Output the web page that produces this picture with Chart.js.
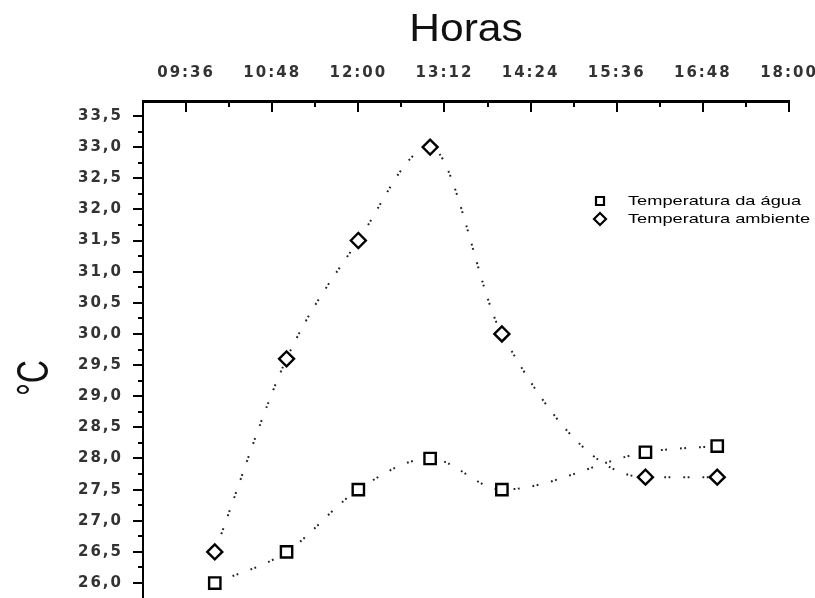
<!DOCTYPE html>
<html>
<head>
<meta charset="utf-8">
<title>Horas x °C</title>
<script src="https://cdn.jsdelivr.net/npm/chart.js@4.4.1/dist/chart.umd.min.js"></script>
<style>
  html, body { margin: 0; padding: 0; background: #fff; overflow: hidden; }
  #my-chart { display: block; }
</style>
</head>
<body>
<canvas id="my-chart" width="815" height="598"></canvas>
<script>
'use strict';

// hours of the day (decimal) for each reading
let readingHours = [10, 11, 12, 13, 14, 16, 17];
let waterTemps = [26.0, 26.5, 27.5, 28.0, 27.5, 28.1, 28.2];
let ambientTemps = [26.5, 29.6, 31.5, 33.0, 30.0, 27.7, 27.7];

let xTickLabels = ['09:36', '10:48', '12:00', '13:12', '14:24', '15:36', '16:48', '18:00'];
let yTickValues = [26.0, 26.5, 27.0, 27.5, 28.0, 28.5, 29.0, 29.5, 30.0, 30.5, 31.0, 31.5, 32.0, 32.5, 33.0, 33.5];

function labelToHours(label) {
  let parts = label.split(':');
  return Number(parts[0]) + Number(parts[1]) / 60;
}

function hoursToLabel(h) {
  let total = Math.round(h * 60);
  let hh = String(Math.floor(total / 60)).padStart(2, '0');
  let mm = String(total % 60).padStart(2, '0');
  return hh + ':' + mm;
}

let canvasElem = document.getElementById('my-chart');

// ticks (x inward, y outward), legend and the titles
let extrasPlugin = {
  id: 'extras',
  beforeDraw(chart) {
    chart.ctx.letterSpacing = '2px';
  },
  afterDraw(chart) {
    let ctx = chart.ctx;
    let xScale = chart.scales.x;
    let yScale = chart.scales.y;
    let area = chart.chartArea;

    ctx.save();
    ctx.letterSpacing = '0px';
    ctx.strokeStyle = '#000';
    ctx.lineWidth = 2;
    ctx.beginPath();
    for (let k = 1; k <= 15; k++) {
      let px = Math.round(xScale.getPixelForValue(9 + 0.6 * k));
      let len = (k % 2 === 1) ? 11 : 6;
      ctx.moveTo(px, area.top);
      ctx.lineTo(px, area.top + len);
    }
    for (let k = 0; k <= 32; k++) {
      let v = 25.75 + 0.25 * k;
      let py = Math.round(yScale.getPixelForValue(v));
      if (py < area.top || py > area.bottom) continue;
      let len = (k % 2 === 1) ? 10 : 5;
      ctx.moveTo(area.left, py);
      ctx.lineTo(area.left - len, py);
    }
    ctx.stroke();

    // legend
    let sets = chart.data.datasets;
    let legendX = 600;
    let legendY = [201, 219];
    ctx.lineWidth = 2.2;
    ctx.fillStyle = '#fff';
    for (let i = 0; i < sets.length; i++) {
      let y = legendY[i];
      ctx.beginPath();
      if (sets[i].pointStyle === 'rect') {
        ctx.rect(legendX - 4, y - 4, 8, 8);
      } else {
        ctx.moveTo(legendX, y - 6);
        ctx.lineTo(legendX + 6, y);
        ctx.lineTo(legendX, y + 6);
        ctx.lineTo(legendX - 6, y);
        ctx.closePath();
      }
      ctx.fill();
      ctx.stroke();

      ctx.save();
      ctx.fillStyle = '#000';
      ctx.font = '13px "Liberation Sans", Arial, sans-serif';
      ctx.textBaseline = 'middle';
      ctx.translate(628, y);
      ctx.scale(1.4, 1);
      ctx.fillText(sets[i].label, 0, 0);
      ctx.restore();
    }

    // x axis title
    ctx.save();
    ctx.fillStyle = '#111';
    ctx.font = '38px "Liberation Sans", Arial, sans-serif';
    ctx.textAlign = 'center';
    ctx.textBaseline = 'middle';
    ctx.translate((area.left + area.right) / 2, 31);
    ctx.scale(1.12, 1);
    ctx.fillText('Horas', 0, 0);
    ctx.restore();

    // y axis title
    ctx.fillStyle = '#111';
    ctx.font = '32px "Liberation Sans", Arial, sans-serif';
    ctx.textAlign = 'center';
    ctx.textBaseline = 'middle';
    ctx.translate(36, 378);
    ctx.scale(1.4, 1);
    ctx.rotate(-Math.PI / 2);
    ctx.fillText('°C', 0, 0);
    ctx.restore();
  }
};

let lineDash = [1.8, 2.5, 1.8, 13];

let chartObj = {
  type: 'line',
  data: {
    datasets: [{
      label: 'Temperatura da água',
      data: readingHours.map((h, i) => ({ x: h, y: waterTemps[i] })),
      pointStyle: 'rect',
      pointRadius: 8,
      pointBorderWidth: 2.4,
      pointBorderColor: '#000',
      pointBackgroundColor: '#fff',
      borderColor: '#222',
      borderWidth: 2,
      borderDash: lineDash,
      cubicInterpolationMode: 'monotone',
      clip: false,
    },
    {
      label: 'Temperatura ambiente',
      data: readingHours.map((h, i) => ({ x: h, y: ambientTemps[i] })),
      pointStyle: 'rectRot',
      pointRadius: 7.5,
      pointBorderWidth: 2.4,
      pointBorderColor: '#000',
      pointBackgroundColor: '#fff',
      borderColor: '#222',
      borderWidth: 2,
      borderDash: lineDash,
      cubicInterpolationMode: 'monotone',
      clip: false,
    }]
  },
  options: {
    responsive: false,
    animation: false,
    layout: {
      autoPadding: false,
      padding: { left: 0, right: 26, top: 0, bottom: 0 }
    },
    plugins: {
      legend: { display: false },
      tooltip: { enabled: false }
    },
    scales: {
      x: {
        type: 'linear',
        position: 'top',
        min: 9,
        max: 18,
        afterBuildTicks(scale) {
          scale.ticks = xTickLabels.map(l => ({ value: labelToHours(l) }));
        },
        afterFit(scale) {
          scale.height = 101;
          scale.paddingLeft = 0;
          scale.paddingRight = 0;
        },
        ticks: {
          padding: 19,
          maxRotation: 0,
          autoSkip: false,
          color: '#333',
          font: { family: '"DejaVu Sans", sans-serif', size: 15, weight: 'bold' },
          callback: (v) => hoursToLabel(v)
        },
        grid: { display: false, drawTicks: false },
        border: { display: true, color: '#000', width: 3 }
      },
      y: {
        min: 25.76,
        max: 33.74,
        afterBuildTicks(scale) {
          scale.ticks = yTickValues.map(v => ({ value: v }));
        },
        afterFit(scale) {
          scale.width = 143;
          scale.paddingTop = 0;
          scale.paddingBottom = 0;
        },
        ticks: {
          padding: 20,
          autoSkip: false,
          color: '#333',
          font: { family: '"DejaVu Sans", sans-serif', size: 15, weight: 'bold' },
          callback: (v) => v.toFixed(1).replace('.', ',')
        },
        grid: { display: false, drawTicks: false },
        border: { display: true, color: '#000', width: 2 }
      }
    }
  },
  plugins: [extrasPlugin]
};

new Chart(canvasElem, chartObj); //eslint-disable-line
</script>
</body>
</html>
